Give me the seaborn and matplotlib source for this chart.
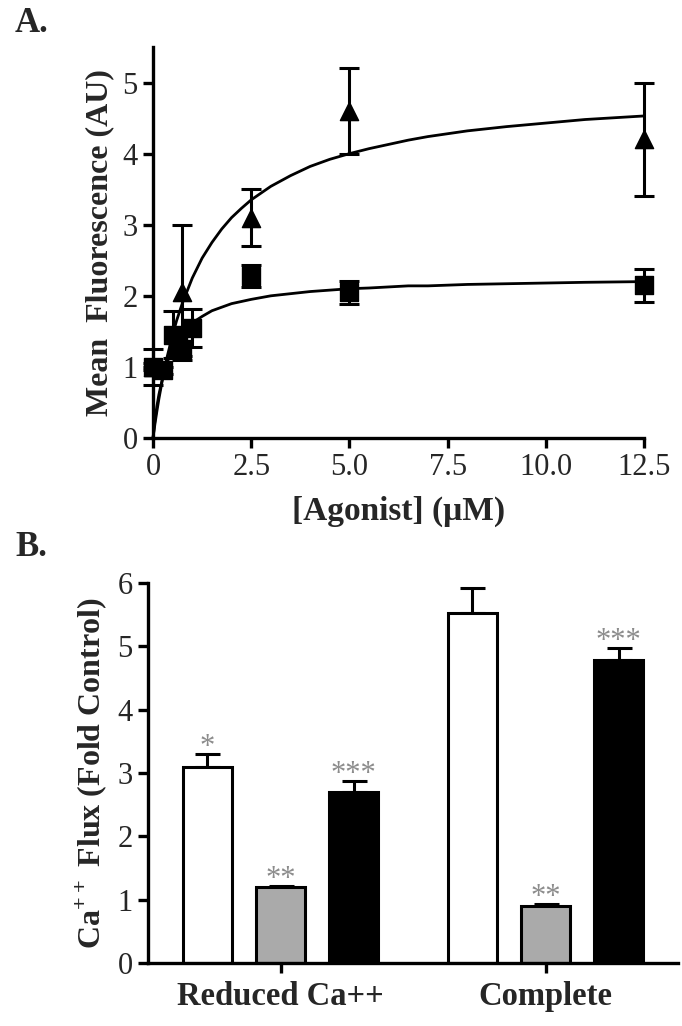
import matplotlib
matplotlib.use("Agg")
import matplotlib.pyplot as plt
import seaborn as sns
import pandas as pd
import numpy as np

# ---------------- Panel A data ----------------
sq_x = [0, 0.25, 0.5, 0.625, 0.75, 1.0, 2.5, 5.0, 12.5]
sq_y = [1.0, 0.95, 1.45, 1.3, 1.25, 1.55, 2.28, 2.05, 2.15]
sq_err = [0.25, 0.05, 0.33, 0.15, 0.1, 0.27, 0.16, 0.16, 0.23]

tri_x = [0, 0.75, 2.5, 5.0, 12.5]
tri_y = [1.0, 2.05, 3.1, 4.6, 4.2]
tri_err = [0.05, 0.95, 0.4, 0.6, 0.8]

# fitted curves
fit_x = [0, 0.05, 0.1, 0.15, 0.25, 0.35, 0.5, 0.6, 0.75, 1.0,
         1.25, 1.5, 1.75, 2.0, 2.25, 2.5, 3.0, 3.5, 4.0, 4.5,
         5.0, 5.5, 6.5, 7.0, 8.0, 9.0, 10.0, 11.0, 12.5]
tri_fit = [0, 0.20, 0.38, 0.55, 0.85, 1.12, 1.45, 1.65, 1.90, 2.25,
           2.53, 2.75, 2.94, 3.10, 3.23, 3.35, 3.54, 3.69, 3.82, 3.92,
           4.00, 4.07, 4.19, 4.24, 4.32, 4.38, 4.43, 4.48, 4.53]
sq_fit = [0, 0.25, 0.45, 0.61, 0.86, 1.05, 1.25, 1.35, 1.47, 1.62,
          1.71, 1.79, 1.84, 1.89, 1.92, 1.95, 2.00, 2.03, 2.06, 2.08,
          2.10, 2.11, 2.14, 2.14, 2.16, 2.17, 2.18, 2.19, 2.20]

xticks_a = [0, 2.5, 5.0, 7.5, 10.0, 12.5]
xticklabels_a = ["0", "2.5", "5.0", "7.5", "10.0", "12.5"]
yticks_a = [0, 1, 2, 3, 4, 5]

# ---------------- Panel B data ----------------
groups = ["Reduced Ca++", "Complete"]
conditions = ["Condition 1", "Condition 2", "Condition 3"]
vals = {"Condition 1": [3.10, 5.52],
        "Condition 2": [1.20, 0.90],
        "Condition 3": [2.70, 4.78]}
errs = {"Condition 1": [0.20, 0.40],
        "Condition 2": [0.02, 0.03],
        "Condition 3": [0.18, 0.20]}
stars = {"Condition 1": ["*", ""],
         "Condition 2": ["**", "**"],
         "Condition 3": ["***", "***"]}
colors = ["white", "#aaaaaa", "black"]

sns.set_style("ticks")
plt.rcParams['font.family'] = ['Liberation Serif', 'DejaVu Serif']
plt.rcParams['mathtext.fontset'] = 'custom'
plt.rcParams['mathtext.rm'] = 'Liberation Serif'
plt.rcParams['mathtext.bf'] = 'Liberation Serif:bold'

fig = plt.figure(figsize=(6.82, 10.26), dpi=100)

LW = 2.4
TICKFS = 22
LABFS = 23

# ---------------- Panel A ----------------
axA = fig.add_axes([153/682, 1-438/1026, (644-153)/682, (438-47)/1026])
dfa_fit = pd.DataFrame({"x": fit_x * 2,
                        "y": tri_fit + sq_fit,
                        "s": ["tri"] * len(fit_x) + ["sq"] * len(fit_x)})
sns.lineplot(data=dfa_fit, x="x", y="y", units="s", estimator=None,
             color="black", lw=2.0, ax=axA, clip_on=False, sort=False)
axA.errorbar(sq_x, sq_y, yerr=sq_err, fmt="none", ecolor="black",
             elinewidth=2.2, capsize=7, capthick=2.2, clip_on=False, zorder=3)
axA.errorbar(tri_x, tri_y, yerr=tri_err, fmt="none", ecolor="black",
             elinewidth=2.2, capsize=7, capthick=2.2, clip_on=False, zorder=3)
sns.scatterplot(x=sq_x, y=sq_y, marker="s", s=150, color="black",
                edgecolor="black", ax=axA, zorder=4, clip_on=False)
sns.scatterplot(x=tri_x, y=tri_y, marker="^", s=170, color="black",
                edgecolor="black", ax=axA, zorder=4, clip_on=False)
axA.set_xlim(0, 12.5)
axA.set_ylim(0, 5.5)
axA.set_xticks(xticks_a)
axA.set_xticklabels(xticklabels_a)
axA.set_yticks(yticks_a)
axA.set_xlabel("[Agonist] (\u03bcM)", fontsize=24, fontweight="bold", labelpad=10)
axA.set_ylabel("Mean  Fluorescence (AU)", fontsize=LABFS, fontweight="bold", labelpad=6)
sns.despine(ax=axA)

# ---------------- Panel B ----------------
axB = fig.add_axes([148/682, 1-963/1026, (678-148)/682, (963-583)/1026])
rows = []
for c in conditions:
    for g, v in zip(groups, vals[c]):
        rows.append({"group": g, "cond": c, "val": v})
dfb = pd.DataFrame(rows)
sns.barplot(data=dfb, x="group", y="val", hue="cond", order=groups,
            hue_order=conditions, palette=colors, edgecolor="black",
            linewidth=2.2, width=0.83, gap=0.33, legend=False, ax=axB,
            errorbar=None)
bars = [p for p in axB.patches]
k = 0
for c in conditions:
    for gi in range(len(groups)):
        p = bars[k]
        k += 1
        xc = p.get_x() + p.get_width() / 2
        top = p.get_height()
        e = errs[c][gi]
        axB.errorbar([xc], [top], yerr=[[0], [e]], fmt="none", ecolor="black",
                     elinewidth=2.2, capsize=9, capthick=2.2, zorder=0)
        s = stars[c][gi]
        if s:
            axB.text(xc, top + e - 0.02, s, ha="center", va="baseline",
                     fontsize=22, color="#8c8c8c")
axB.set_xlim(-0.5, 1.5)
axB.set_ylim(0, 6)
axB.set_yticks([0, 1, 2, 3, 4, 5, 6])
axB.set_xlabel("")
axB.set_ylabel(r"Ca$^{\mathbf{++}}$ Flux (Fold Control)", fontsize=LABFS,
               fontweight="bold", labelpad=6)
sns.despine(ax=axB)

for ax in (axA, axB):
    for sp in ("left", "bottom"):
        ax.spines[sp].set_linewidth(LW)
        ax.spines[sp].set_color("black")
    ax.tick_params(axis="both", width=LW, length=7, color="black",
                   labelsize=TICKFS, pad=4)
axB.tick_params(axis="x", pad=6)
for lab in axB.get_xticklabels():
    lab.set_fontweight("bold")
    lab.set_fontsize(23.5)

fig.text(15/682, 1-23/1026, "A.", fontsize=25, fontweight="bold", va="center", ha="left")
fig.text(15/682, 1-547/1026, "B.", fontsize=25, fontweight="bold", va="center", ha="left")

fig.savefig("out.png", dpi=100, facecolor="white")
